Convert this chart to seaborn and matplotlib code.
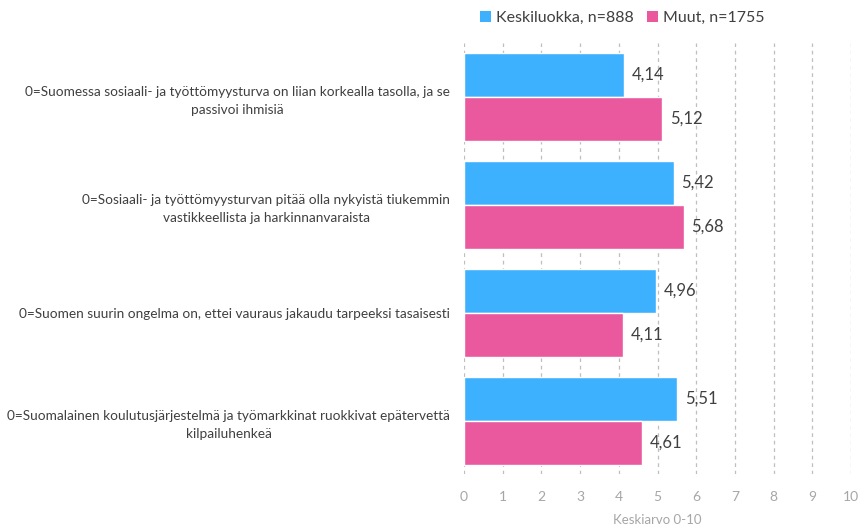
import matplotlib
matplotlib.use("Agg")
import matplotlib.pyplot as plt
import seaborn as sns
import pandas as pd

categories = [
    "0=Suomessa sosiaali- ja työttömyysturva on liian korkealla tasolla, ja se\npassivoi ihmisiä",
    "0=Sosiaali- ja työttömyysturvan pitää olla nykyistä tiukemmin\nvastikkeellista ja harkinnanvaraista",
    "0=Suomen suurin ongelma on, ettei vauraus jakaudu tarpeeksi tasaisesti",
    "0=Suomalainen koulutusjärjestelmä ja työmarkkinat ruokkivat epätervettä\nkilpailuhenkeä",
]
series_names = ["Keskiluokka, n=888", "Muut, n=1755"]
keskiluokka = [4.14, 5.42, 4.96, 5.51]
muut = [5.12, 5.68, 4.11, 4.61]
colors = ["#3DB1FE", "#EA589E"]

rows = []
for c, a, b in zip(categories, keskiluokka, muut):
    rows.append({"cat": c, "series": series_names[0], "value": a})
    rows.append({"cat": c, "series": series_names[1], "value": b})
df = pd.DataFrame(rows)

sns.set_theme(style="white")
plt.rcParams["font.family"] = ["Lato", "DejaVu Sans"]

fig = plt.figure(figsize=(8.58, 5.27), dpi=100)
ax = fig.add_axes([464 / 858, 1 - 474 / 527, (851 - 464) / 858, (474 - 43) / 527])

sns.barplot(data=df, y="cat", x="value", hue="series", order=categories,
            hue_order=series_names, palette=colors, orient="h", width=0.815,
            saturation=1, ax=ax, legend=False)

ax.set_xlim(0, 10)
ax.set_ylim(3.49, -0.5)
ax.set_xticks(range(0, 11))
ax.tick_params(axis="x", colors="#A6A6A6", labelsize=10, length=0, pad=12)
ax.tick_params(axis="y", length=0, labelsize=9.8, colors="#404040", pad=10)
for lbl in ax.get_yticklabels():
    lbl.set_multialignment("center")
    lbl.set_linespacing(1.6)
for s in ax.spines.values():
    s.set_visible(False)
ax.xaxis.grid(True, linestyle=(0, (3, 3)), color="#BFBFBF", linewidth=0.9)
ax.set_axisbelow(True)
ax.set_ylabel("")
ax.set_xlabel("Keskiarvo 0-10", color="#A6A6A6", fontsize=9.5, labelpad=8)

for cont in ax.containers:
    for bar in cont:
        w = bar.get_width()
        ax.text(w + 0.2, bar.get_y() + bar.get_height() / 2,
                f"{w:.2f}".replace(".", ","), va="center", ha="left",
                fontsize=12, color="#404040")

from matplotlib.patches import Patch
handles = [Patch(facecolor=c, edgecolor="none") for c in colors]
fig.legend(handles, series_names, loc="center", bbox_to_anchor=(0.725, 1 - 18 / 527),
           ncol=2, frameon=False, fontsize=11.5, handlelength=0.7, handleheight=0.7,
           handletextpad=0.3, columnspacing=0.8, labelcolor="#404040")

fig.savefig("out.png", dpi=100)
